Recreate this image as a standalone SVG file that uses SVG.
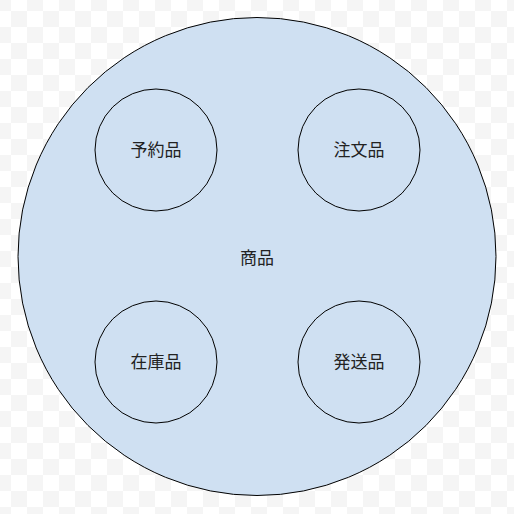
<svg xmlns="http://www.w3.org/2000/svg" width="514" height="514" viewBox="0 0 514 514">
<defs>
<pattern id="chk" patternUnits="userSpaceOnUse" x="-5" y="-5" width="32" height="32">
<rect x="0" y="0" width="32" height="32" fill="#ffffff"/>
<rect x="0" y="0" width="16" height="16" fill="#f5f5f5"/>
<rect x="16" y="16" width="16" height="16" fill="#f5f5f5"/>
</pattern>
<style>
.c{fill:#cfe0f2;stroke:#000;stroke-width:1}
.s{fill:none;stroke:#000;stroke-width:1}
.t{font-family:"Noto Sans CJK JP","Noto Sans CJK SC",sans-serif;font-size:17px;fill:#222;text-anchor:middle;dominant-baseline:central}
</style>
</defs>
<rect width="514" height="514" fill="url(#chk)"/>
<g id="shohin">
<circle class="c" cx="257" cy="256.5" r="239"/>
<text class="t" x="257" y="256">商品</text>
</g>
<g id="yoyaku">
<circle class="s" cx="156" cy="150" r="61"/>
<text class="t" x="156" y="148.5">予約品</text>
</g>
<g id="chumon">
<circle class="s" cx="359" cy="150" r="61"/>
<text class="t" x="359" y="148.5">注文品</text>
</g>
<g id="zaiko">
<circle class="s" cx="156" cy="362" r="61"/>
<text class="t" x="156" y="360.5">在庫品</text>
</g>
<g id="hasso">
<circle class="s" cx="359" cy="362" r="61"/>
<text class="t" x="359" y="360.5">発送品</text>
</g>
<g id="connectors"/>
</svg>
